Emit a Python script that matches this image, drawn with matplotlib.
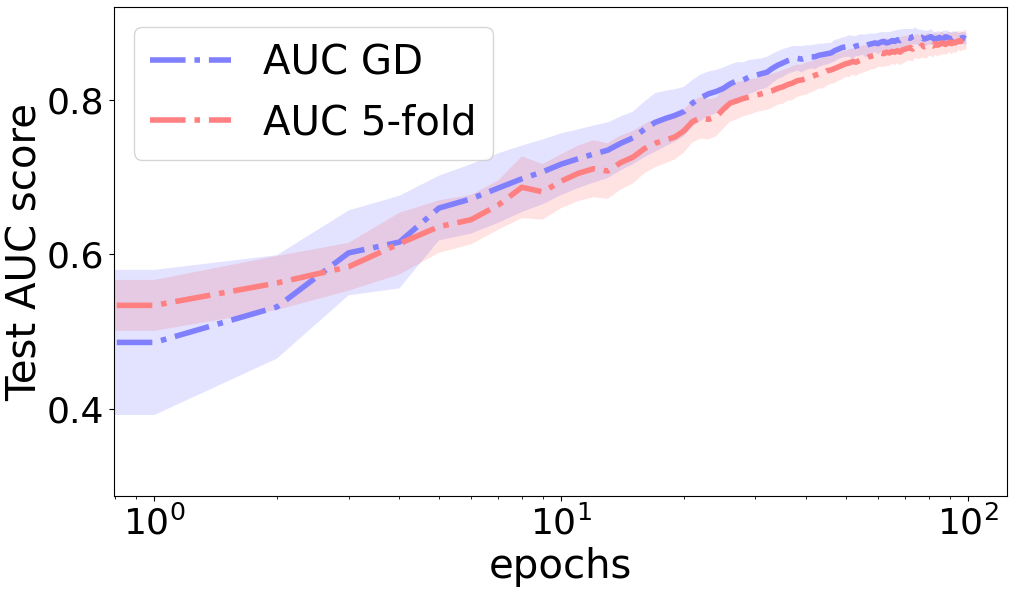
import numpy as np
from matplotlib import pyplot as plt

# epoch 0 sits on the log axis as a clipped point, so the curves start at the left edge
epochs = np.arange(0, 100)

auc_gd = [0.486, 0.486, 0.532, 0.602, 0.616, 0.660, 0.672, 0.686, 0.698, 0.707,
          0.717, 0.724, 0.730, 0.735, 0.744, 0.751, 0.762, 0.771, 0.776, 0.780,
          0.785, 0.796, 0.803, 0.808, 0.811, 0.815, 0.821, 0.825, 0.826, 0.830,
          0.832, 0.834, 0.836, 0.841, 0.845, 0.848, 0.851, 0.853, 0.854, 0.853,
          0.855, 0.856, 0.856, 0.858, 0.859, 0.860, 0.861, 0.864, 0.866, 0.868,
          0.869, 0.870, 0.868, 0.870, 0.871, 0.872, 0.870, 0.872, 0.873, 0.874,
          0.873, 0.875, 0.876, 0.874, 0.875, 0.877, 0.876, 0.878, 0.877, 0.879,
          0.880, 0.881, 0.880, 0.882, 0.883, 0.882, 0.880, 0.881, 0.879, 0.880,
          0.881, 0.882, 0.880, 0.878, 0.880, 0.881, 0.879, 0.880, 0.882, 0.881,
          0.880, 0.879, 0.881, 0.882, 0.880, 0.879, 0.880, 0.881, 0.880, 0.879]

std_gd = [0.094, 0.094, 0.067, 0.055, 0.060, 0.042, 0.045, 0.045, 0.043, 0.042,
          0.040, 0.038, 0.037, 0.036, 0.035, 0.034, 0.036, 0.038, 0.036, 0.034,
          0.032, 0.030, 0.030, 0.029, 0.028, 0.027, 0.025, 0.024, 0.023, 0.022,
          0.021, 0.020, 0.020, 0.019, 0.018, 0.018, 0.017, 0.017, 0.016, 0.017,
          0.016, 0.015, 0.016, 0.015, 0.014, 0.014, 0.013, 0.014, 0.013, 0.013,
          0.013, 0.014, 0.015, 0.013, 0.014, 0.013, 0.015, 0.014, 0.013, 0.012,
          0.014, 0.013, 0.012, 0.014, 0.013, 0.012, 0.014, 0.013, 0.014, 0.013,
          0.012, 0.011, 0.012, 0.010, 0.011, 0.010, 0.011, 0.010, 0.011, 0.010,
          0.009, 0.010, 0.009, 0.010, 0.009, 0.008, 0.009, 0.010, 0.008, 0.009,
          0.008, 0.009, 0.008, 0.007, 0.008, 0.007, 0.008, 0.007, 0.008, 0.007]

auc_kfold = [0.534, 0.534, 0.563, 0.584, 0.614, 0.636, 0.645, 0.664, 0.687, 0.681,
             0.695, 0.705, 0.711, 0.708, 0.719, 0.726, 0.737, 0.744, 0.748, 0.752,
             0.760, 0.772, 0.777, 0.775, 0.778, 0.788, 0.796, 0.799, 0.802, 0.804,
             0.806, 0.808, 0.810, 0.812, 0.815, 0.817, 0.820, 0.822, 0.825, 0.826,
             0.828, 0.830, 0.832, 0.834, 0.835, 0.838, 0.839, 0.841, 0.843, 0.845,
             0.847, 0.848, 0.850, 0.849, 0.851, 0.853, 0.854, 0.856, 0.857, 0.858,
             0.860, 0.861, 0.860, 0.862, 0.861, 0.863, 0.862, 0.864, 0.862, 0.865,
             0.866, 0.867, 0.868, 0.866, 0.869, 0.870, 0.868, 0.871, 0.869, 0.870,
             0.872, 0.871, 0.870, 0.873, 0.871, 0.872, 0.874, 0.873, 0.872, 0.874,
             0.875, 0.873, 0.875, 0.874, 0.876, 0.877, 0.876, 0.877, 0.878, 0.878]

std_kfold = [0.033, 0.033, 0.035, 0.031, 0.040, 0.034, 0.032, 0.032, 0.040, 0.036,
             0.035, 0.036, 0.037, 0.036, 0.035, 0.034, 0.032, 0.031, 0.030, 0.029,
             0.028, 0.027, 0.027, 0.026, 0.025, 0.025, 0.024, 0.024, 0.023, 0.023,
             0.022, 0.022, 0.023, 0.022, 0.021, 0.022, 0.021, 0.022, 0.021, 0.020,
             0.021, 0.020, 0.020, 0.019, 0.020, 0.019, 0.018, 0.019, 0.018, 0.018,
             0.017, 0.018, 0.017, 0.018, 0.017, 0.018, 0.017, 0.018, 0.017, 0.018,
             0.017, 0.018, 0.017, 0.018, 0.017, 0.016, 0.017, 0.016, 0.017, 0.018,
             0.017, 0.016, 0.017, 0.016, 0.015, 0.016, 0.015, 0.016, 0.015, 0.016,
             0.015, 0.014, 0.015, 0.014, 0.015, 0.014, 0.015, 0.014, 0.013, 0.014,
             0.013, 0.014, 0.013, 0.014, 0.013, 0.012, 0.013, 0.012, 0.013, 0.013]

series = [("AUC GD", auc_gd, std_gd, "#8080ff", "b"),
          ("AUC 5-fold", auc_kfold, std_kfold, "#ff8080", "r")]

fig = plt.figure(figsize=(10.13, 5.90), dpi=100)
ax = fig.add_axes([0.1125, 0.1593, 0.8815, 0.8288])

# bands first so the lines stay clean on top
for label, mean, std, line_color, band_color in series:
    mean = np.array(mean)
    std = np.array(std)
    ax.fill_between(epochs, mean - std, mean + std, color=band_color, alpha=0.11, lw=0)

for label, mean, std, line_color, band_color in series:
    ax.plot(epochs, mean, "-.", color=line_color, lw=4, label=label)

ax.set_xscale("log")
ax.set_xlim(0.795, 124.5)
ax.set_ylim(0.287, 0.9205)
ax.set_yticks([0.4, 0.6, 0.8])
ax.tick_params(labelsize=26)
ax.set_xlabel("epochs", fontsize=29)
ax.set_ylabel("Test AUC score", fontsize=29, labelpad=1)
ax.legend(loc="upper left", fontsize=29)

fig.savefig("out.png", dpi=100)
